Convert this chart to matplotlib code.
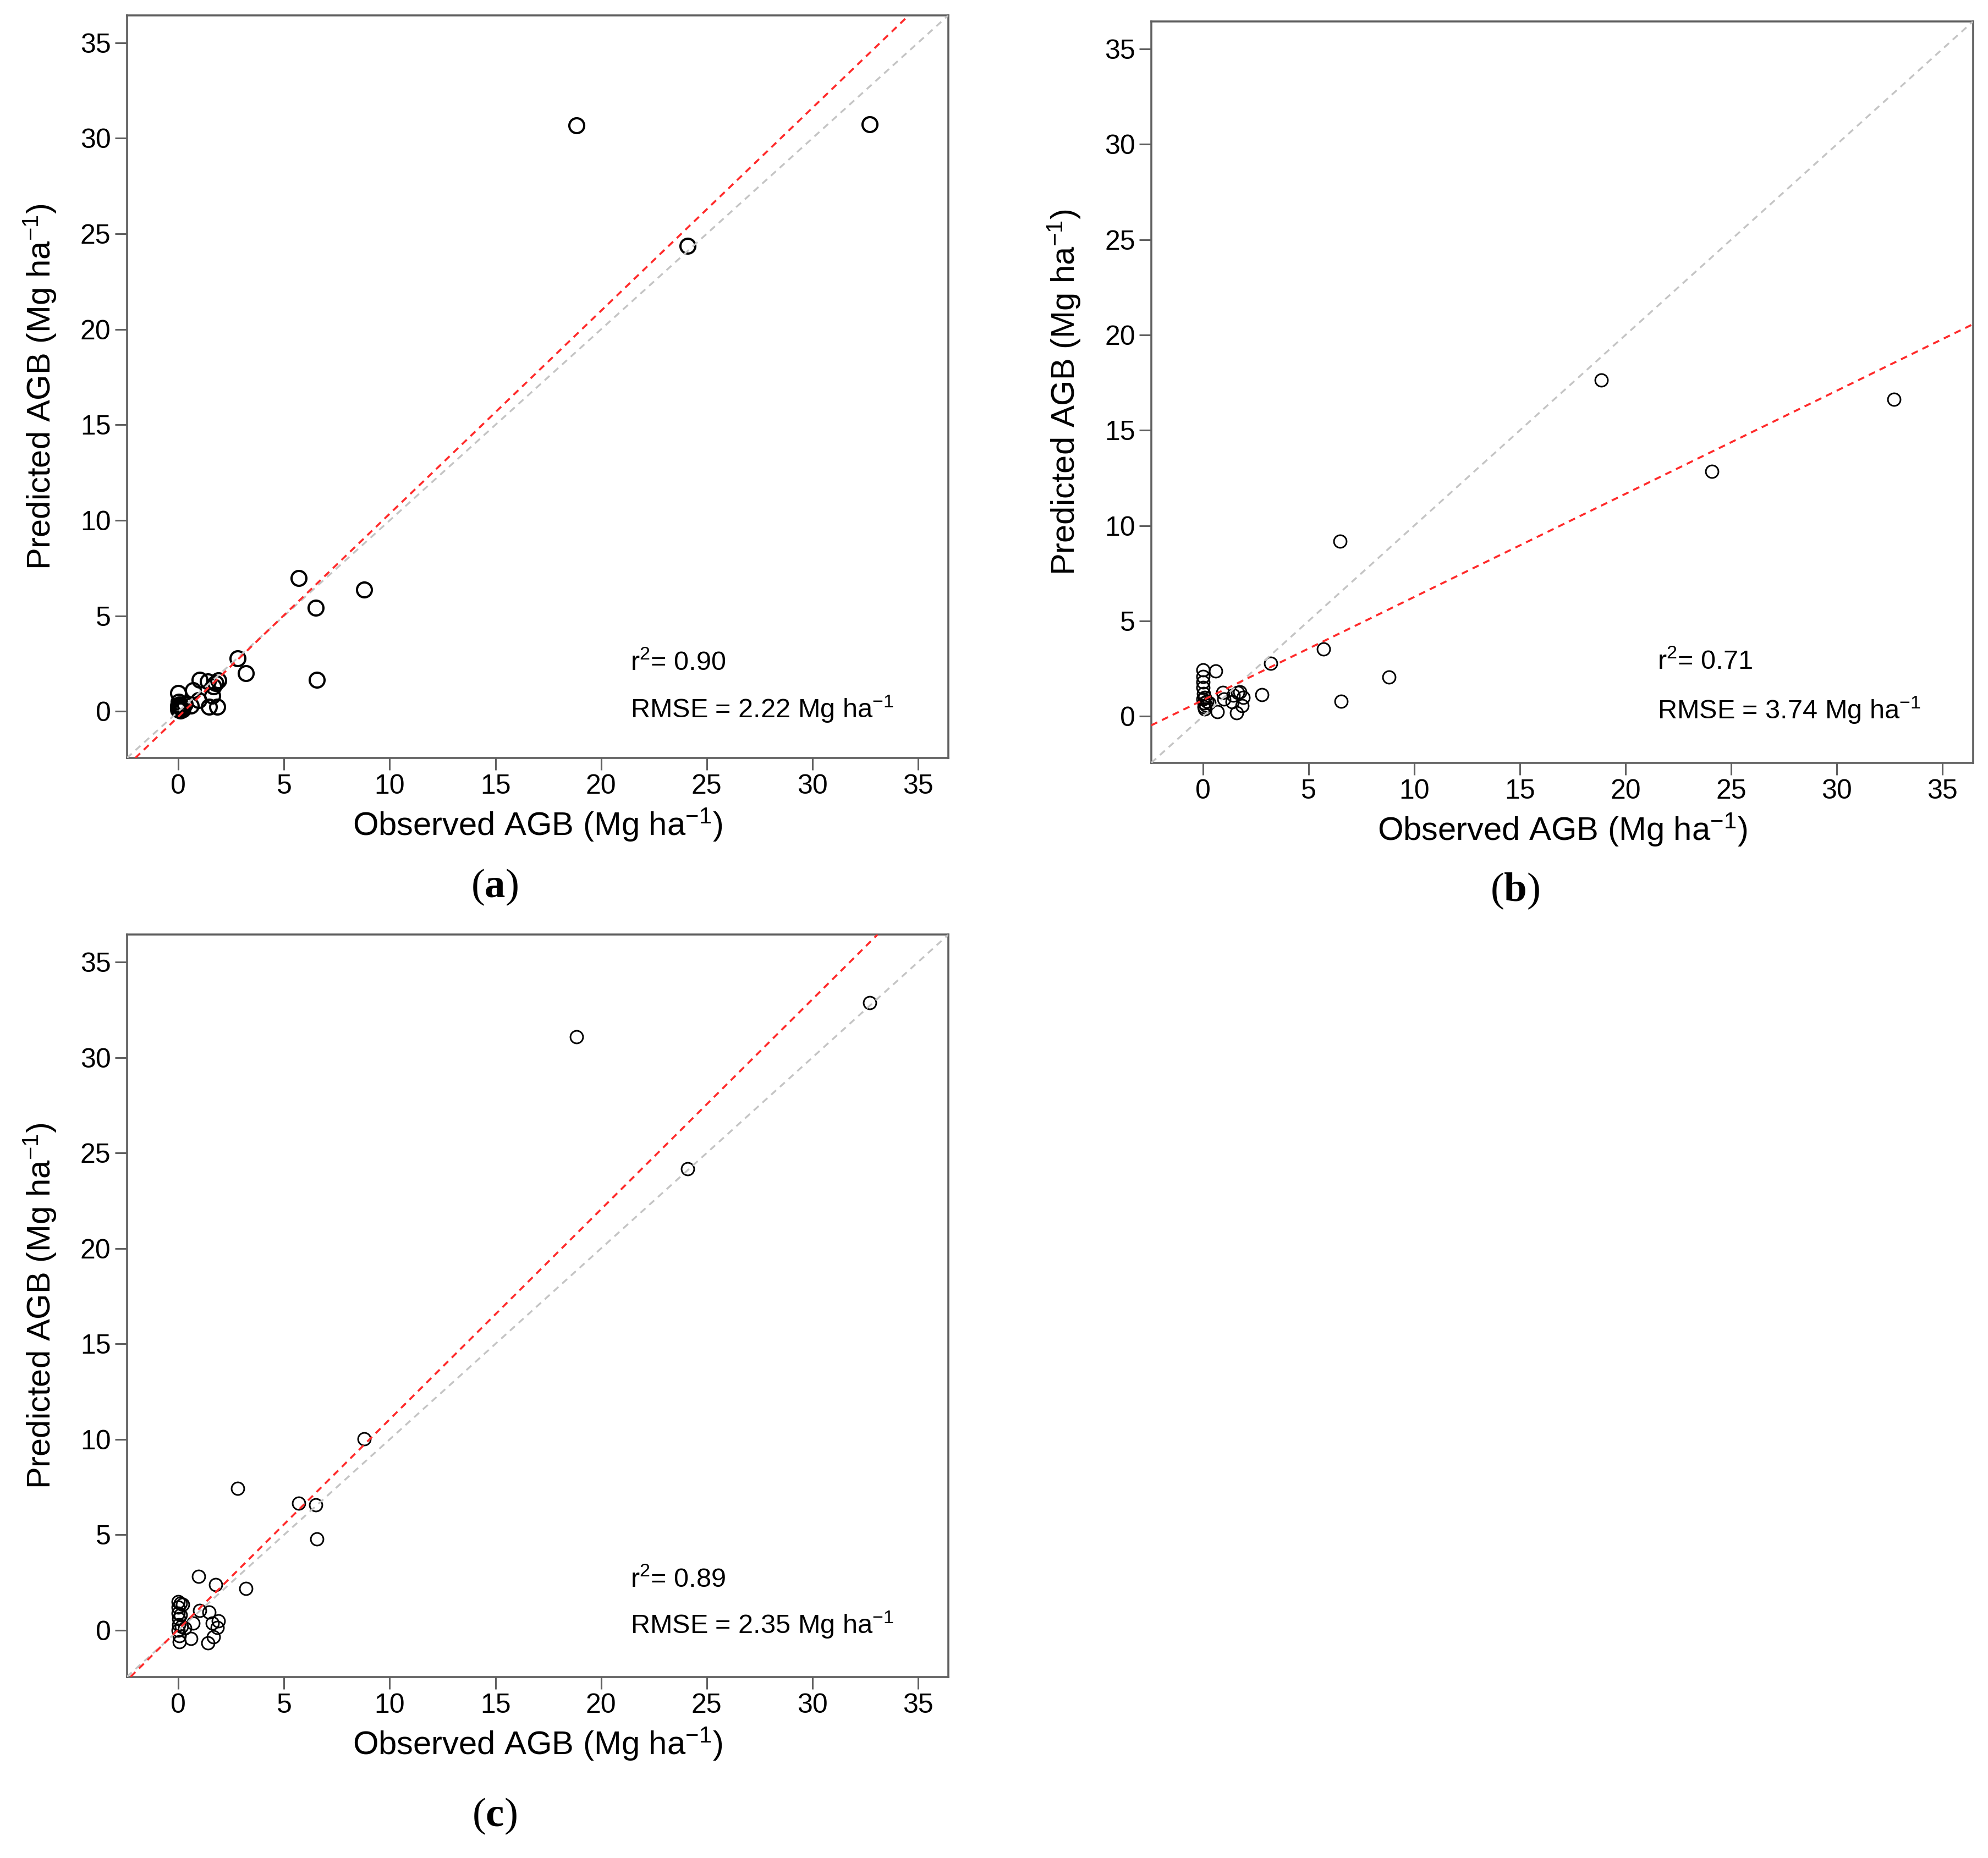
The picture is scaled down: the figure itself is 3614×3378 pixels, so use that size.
import numpy as np
import matplotlib
matplotlib.use('Agg')
import matplotlib.pyplot as plt

plt.rcParams['font.family'] = ['Liberation Sans', 'DejaVu Sans']
plt.rcParams['mathtext.fontset'] = 'custom'
plt.rcParams['mathtext.rm'] = 'Liberation Sans'
plt.rcParams['mathtext.it'] = 'Liberation Sans:italic'
plt.rcParams['mathtext.bf'] = 'Liberation Serif:bold'

# ---------------- data ----------------
observed = [0.0, 0.0, 0.0, 0.02, 0.03, 0.0, 0.05, 0.05, 0.1, 0.1, 0.15, 0.2,
            0.3, 0.6, 0.7, 0.95, 1.0, 1.4, 1.45, 1.6, 1.65, 1.75, 1.85, 1.9,
            2.8, 3.2, 5.7, 6.5, 6.55, 8.8, 18.85, 24.1, 32.7]

pred_a = [0.1, 0.2, 0.3, 0.15, 0.5, 0.95, 0.1, 0.35, 0.2, 0.05, 0.25, 0.1,
          0.4, 0.3, 1.1, 0.6, 1.66, 1.58, 0.24, 0.82, 1.3, 1.49, 0.24, 1.63,
          2.79, 1.99, 6.97, 5.44, 1.66, 6.37, 30.68, 24.37, 30.74]

pred_b = [2.44, 2.1, 1.8, 1.5, 1.2, 0.9, 0.7, 0.5, 0.4, 1.0, 0.6, 0.8,
          0.7, 2.39, 0.25, 1.24, 0.9, 0.76, 1.1, 0.18, 1.25, 1.29, 0.57, 1.0,
          1.13, 2.79, 3.53, 9.18, 0.8, 2.06, 17.63, 12.84, 16.63]

pred_c = [1.5, 1.2, 0.9, 0.6, 0.3, 0.0, -0.3, -0.6, 1.4, 0.8, 0.2, 1.35,
          0.1, -0.44, 0.38, 2.83, 1.05, -0.67, 0.96, 0.38, -0.34, 2.40, 0.14, 0.5,
          7.44, 2.19, 6.64, 6.57, 4.78, 10.03, 31.08, 24.17, 32.87]

fit_intercepts = [-0.27, 0.85, 0.05]
fit_slopes = [1.062, 0.541, 1.10]
r2_values = ['0.90', '0.71', '0.89']
rmse_values = ['2.22', '3.74', '2.35']
panel_labels = ['a', 'b', 'c']
tick_values = [0, 5, 10, 15, 20, 25, 30, 35]

predictions = [pred_a, pred_b, pred_c]

# ---------------- layout ----------------
fig = plt.figure(figsize=(36.14, 33.78), dpi=100)
axes_rects = [
    [0.0638, 0.5920, 0.4133, 0.3998],
    [0.5791, 0.5894, 0.4133, 0.3990],
    [0.0638, 0.0975, 0.4133, 0.3995],
]
label_pos = [(0.2487, 0.5225), (0.7620, 0.5205), (0.2487, 0.0225)]
stats_pos = [(21.4, 2.55, 0.13), (21.5, 2.86, 0.33), (21.4, 2.66, 0.27)]
marker_sizes = [19.5, 16.5, 16.5]
marker_edges = [2.9, 2.1, 2.1]

lims = (-2.44, 36.44)
frame_col = '#606060'

for i in range(3):
    ax = fig.add_axes(axes_rects[i])
    ax.plot(observed, predictions[i], linestyle='none', marker='o',
            markerfacecolor='none', markeredgecolor='black',
            markersize=marker_sizes[i], markeredgewidth=marker_edges[i], zorder=2)
    ax.axline((0, 0), slope=1, color='#c4c4c4', linewidth=2.4,
              dashes=(3.6, 2.8), zorder=3)
    ax.axline((0, fit_intercepts[i]), slope=fit_slopes[i], color='#ff2a2a',
              linewidth=2.6, dashes=(3.4, 2.6), zorder=4)
    ax.set_xlim(lims)
    ax.set_ylim(lims)
    ax.set_xticks(tick_values)
    ax.set_yticks(tick_values)
    ax.tick_params(axis='both', labelsize=36, length=16, width=2.2,
                   color=frame_col, pad=5)
    for sp in ax.spines.values():
        sp.set_color(frame_col)
        sp.set_linewidth(2.6)
    ax.set_xlabel(r'Observed AGB (Mg ha$^{-1}$)', fontsize=43)
    ax.set_ylabel(r'Predicted AGB (Mg ha$^{-1}$)', fontsize=43)
    ax.xaxis.set_label_coords(0.5, -0.090)
    ax.yaxis.set_label_coords(-0.106, 0.5)
    ax.xaxis.label.set_verticalalignment('center')
    ax.yaxis.label.set_verticalalignment('center')
    sx, sy1, sy2 = stats_pos[i]
    ax.text(sx, sy1, r'r$^{2}$= ' + r2_values[i], fontsize=35,
            ha='left', va='center')
    ax.text(sx, sy2, 'RMSE = ' + rmse_values[i] + r' Mg ha$^{-1}$',
            fontsize=35, ha='left', va='center')
    fig.text(label_pos[i][0], label_pos[i][1],
             r'($\mathbf{' + panel_labels[i] + r'}$)',
             family='Liberation Serif', fontsize=54, ha='center', va='center')

fig.savefig('out.png', dpi=100, facecolor='white')
